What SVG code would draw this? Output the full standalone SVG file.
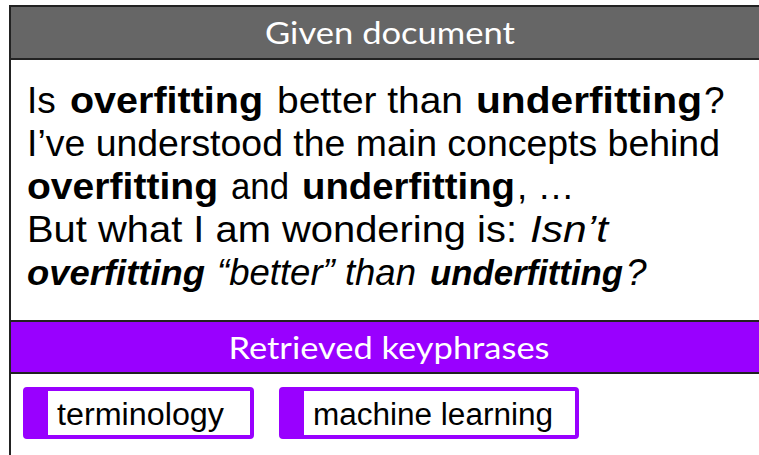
<svg xmlns="http://www.w3.org/2000/svg" width="759" height="455" viewBox="0 0 759 455">
  <style>
    .band-title { font-family: Lato, "Open Sans", "DejaVu Sans", sans-serif; fill: #ffffff; font-size: 30px; }
    .body { font-family: "Liberation Sans", Arial, sans-serif; font-size: 37px; fill: #000000; }
    .b { font-weight: bold; }
    .i { font-style: italic; }
    .bi { font-size: 35px; }
    .tag-frame { fill: #9900ff; stroke: #9900ff; stroke-width: 2; }
    .tag-inner { fill: #ffffff; }
    .tag-text { font-family: "Liberation Sans", Arial, sans-serif; font-size: 31px; fill: #000000; }
  </style>

  <rect x="0" y="0" width="759" height="455" fill="#ffffff"/>

  <!-- document panel -->
  <g id="document">
    <rect x="10" y="6" width="760" height="53" fill="#666666" stroke="#222222" stroke-width="2"/>
    <text class="band-title" x="390" y="44" text-anchor="middle" textLength="250" lengthAdjust="spacingAndGlyphs">Given document</text>
    <line x1="10" y1="59" x2="10" y2="455" stroke="#222222" stroke-width="2"/>

    <!-- line 1 -->
    <text class="body" x="27" y="113">Is</text>
    <text class="body b" x="70" y="113" textLength="193" lengthAdjust="spacingAndGlyphs">overfitting</text>
    <text class="body" x="277" y="113" textLength="186" lengthAdjust="spacingAndGlyphs">better than</text>
    <text class="body b" x="476" y="113" textLength="226" lengthAdjust="spacingAndGlyphs">underfitting</text>
    <text class="body" x="704" y="113">?</text>

    <!-- line 2 -->
    <text class="body" x="27" y="156" textLength="693" lengthAdjust="spacingAndGlyphs">I’ve understood the main concepts behind</text>

    <!-- line 3 -->
    <text class="body b" x="27" y="199" textLength="191" lengthAdjust="spacingAndGlyphs">overfitting</text>
    <text class="body" x="231" y="199" textLength="58" lengthAdjust="spacingAndGlyphs">and</text>
    <text class="body b" x="302" y="199" textLength="213" lengthAdjust="spacingAndGlyphs">underfitting</text>
    <text class="body" x="517" y="199">, …</text>

    <!-- line 4 -->
    <text class="body" x="27" y="242" textLength="490" lengthAdjust="spacingAndGlyphs">But what I am wondering is:</text>
    <text class="body i" x="530" y="242" textLength="78" lengthAdjust="spacingAndGlyphs">Isn’t</text>

    <!-- line 5 -->
    <text class="body b i bi" x="27" y="285" textLength="178" lengthAdjust="spacingAndGlyphs">overfitting</text>
    <text class="body i" x="217" y="285" textLength="199" lengthAdjust="spacingAndGlyphs">“better” than</text>
    <text class="body b i bi" x="430" y="285" textLength="193" lengthAdjust="spacingAndGlyphs">underfitting</text>
    <text class="body i" x="626" y="285">?</text>
  </g>

  <!-- keyphrase panel -->
  <g id="keyphrases">
    <rect x="10" y="321" width="760" height="52" fill="#9900ff" stroke="#222222" stroke-width="2"/>
    <text class="band-title" x="389" y="359" text-anchor="middle" textLength="321" lengthAdjust="spacingAndGlyphs">Retrieved keyphrases</text>
  </g>

  <g id="tag-terminology">
    <rect class="tag-frame" x="24" y="388" width="229" height="50" rx="3"/>
    <rect class="tag-inner" x="48" y="391" width="202" height="44"/>
    <text class="tag-text" x="57" y="425" textLength="167" lengthAdjust="spacingAndGlyphs">terminology</text>
  </g>

  <g id="tag-machine-learning">
    <rect class="tag-frame" x="280" y="388" width="298" height="50" rx="3"/>
    <rect class="tag-inner" x="304" y="391" width="271" height="44"/>
    <text class="tag-text" x="313" y="425" textLength="240" lengthAdjust="spacingAndGlyphs">machine learning</text>
  </g>
</svg>
